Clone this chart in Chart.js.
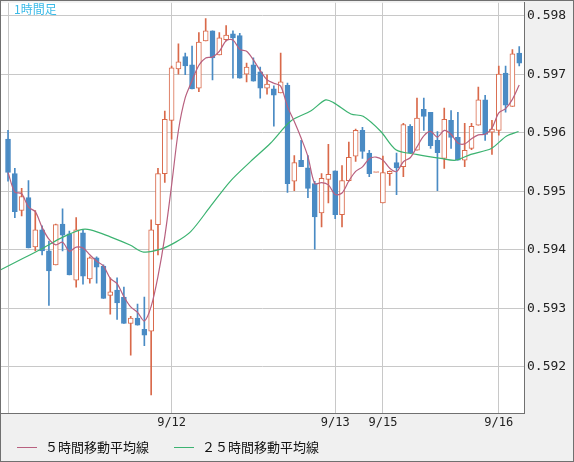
<!DOCTYPE html>
<html>
<head>
<meta charset="utf-8">
<script src="https://cdn.jsdelivr.net/npm/chart.js@4"></script>
<style>
  html, body { margin: 0; padding: 0; background: #f0f0f0; }
  #wrap { width: 572px; height: 460px; border: 1px solid #707070; overflow: hidden; }
  #myChart { display: block; margin-top: -9px; }
</style>
</head>
<body>
<div id="wrap"><canvas id="myChart" width="572" height="469"></canvas></div>
<script>
// hourly candles (open, high, low, close)
var opens = [0.59589,0.59530,0.59467,0.59489,0.59405,0.59434,0.59398,0.59374,0.59444,0.59427,0.59348,0.59429,0.59350,0.59386,0.59372,0.59322,0.59331,0.59319,0.59274,0.59283,0.59264,0.59261,0.59443,0.59530,0.59621,0.59709,0.59730,0.59716,0.59676,0.59757,0.59774,0.59733,0.59759,0.59769,0.59766,0.59700,0.59716,0.59704,0.59676,0.59675,0.59668,0.59681,0.59517,0.59553,0.59540,0.59513,0.59463,0.59520,0.59535,0.59460,0.59518,0.59560,0.59604,0.59565,0.59532,0.59480,0.59530,0.59549,0.59542,0.59611,0.59570,0.59640,0.59635,0.59587,0.59556,0.59621,0.59592,0.59553,0.59573,0.59613,0.59656,0.59601,0.59604,0.59702,0.59645,0.59736];
var highs = [0.59604,0.59539,0.59505,0.59518,0.59467,0.59441,0.59415,0.59444,0.59470,0.59432,0.59455,0.59434,0.59388,0.59388,0.59374,0.59352,0.59352,0.59336,0.59286,0.59307,0.59319,0.59451,0.59539,0.59637,0.59714,0.59752,0.59736,0.59748,0.59771,0.59795,0.59774,0.59771,0.59783,0.59774,0.59770,0.59719,0.59728,0.59712,0.59699,0.59680,0.59736,0.59685,0.59561,0.59587,0.59561,0.59517,0.59530,0.59580,0.59535,0.59544,0.59584,0.59606,0.59609,0.59570,0.59532,0.59560,0.59535,0.59565,0.59616,0.59614,0.59659,0.59659,0.59635,0.59602,0.59642,0.59638,0.59635,0.59616,0.59616,0.59678,0.59664,0.59621,0.59714,0.59714,0.59742,0.59747];
var lows = [0.59517,0.59455,0.59458,0.59403,0.59398,0.59391,0.59305,0.59374,0.59398,0.59357,0.59336,0.59341,0.59343,0.59343,0.59317,0.59290,0.59281,0.59274,0.59220,0.59271,0.59236,0.59152,0.59391,0.59515,0.59589,0.59700,0.59699,0.59675,0.59670,0.59757,0.59690,0.59733,0.59757,0.59693,0.59693,0.59687,0.59688,0.59659,0.59666,0.59611,0.59668,0.59498,0.59501,0.59542,0.59489,0.59401,0.59439,0.59480,0.59453,0.59439,0.59517,0.59551,0.59556,0.59525,0.59532,0.59480,0.59510,0.59494,0.59525,0.59566,0.59570,0.59604,0.59573,0.59501,0.59539,0.59573,0.59553,0.59542,0.59571,0.59613,0.59587,0.59563,0.59596,0.59635,0.59645,0.59714];
var closes = [0.59532,0.59465,0.59491,0.59403,0.59434,0.59398,0.59364,0.59443,0.59425,0.59357,0.59434,0.59355,0.59386,0.59370,0.59317,0.59328,0.59309,0.59274,0.59283,0.59271,0.59254,0.59434,0.59530,0.59623,0.59711,0.59721,0.59714,0.59675,0.59755,0.59774,0.59728,0.59762,0.59767,0.59762,0.59693,0.59712,0.59688,0.59676,0.59683,0.59664,0.59687,0.59513,0.59549,0.59542,0.59505,0.59456,0.59522,0.59529,0.59460,0.59518,0.59558,0.59604,0.59568,0.59530,0.59532,0.59532,0.59534,0.59540,0.59614,0.59566,0.59625,0.59628,0.59578,0.59566,0.59623,0.59592,0.59553,0.59570,0.59611,0.59656,0.59597,0.59606,0.59700,0.59647,0.59735,0.59719];

// 25 hour moving average at a few points [index, value]
var ma25Points = [[-1.2,0.59365],[1.8,0.59383],[4.7,0.59400],[7.6,0.59419],[10.6,0.59434],[12.1,0.59434],[15,0.59422],[17.9,0.59408],[19.9,0.59396],[22.4,0.59401],[24.6,0.59413],[26.8,0.59431],[29.7,0.59474],[32.6,0.59517],[35.6,0.59551],[38.5,0.59582],[41.5,0.59620],[44.4,0.59637],[46.6,0.59656],[47.8,0.59651],[50.3,0.59632],[52.1,0.59628],[54.7,0.59602],[56.9,0.59571],[59.9,0.59563],[63.5,0.59556],[65.7,0.59553],[67.9,0.59563],[70.9,0.59573],[73.1,0.59594],[74.9,0.59602]];

// date gridlines (candle index) and their labels
var dateIndex = [0, 24, 48, 55, 72];
var dateLabels = ["", "9/12", "9/13", "9/15", "9/16"];
var priceTicks = [0.592, 0.593, 0.594, 0.595, 0.596, 0.597, 0.598];

var upColor = "#d9694a";
var downColor = "#4a8bc4";

//build the datasets from the arrays
var wicks = [], bodies = [], bodyColors = [], bodyFills = [], ma5 = [];
for (var i = 0; i < opens.length; i++) {
	var up = closes[i] >= opens[i];
	wicks.push({x: i, y: [lows[i], highs[i]]});
	bodies.push({x: i, y: [Math.min(opens[i], closes[i]), Math.max(opens[i], closes[i])]});
	bodyColors.push(up ? upColor : downColor);
	bodyFills.push(up ? "#ffffff" : downColor);

	//5 hour moving average from the closes
	var n = Math.min(5, i + 1), s = 0;
	for (var k = 0; k < n; k++) s += closes[i - k];
	ma5.push({x: i, y: s / n});
}
var ma25 = ma25Points.map(function(p) { return {x: p[0], y: p[1]}; });

var decorations = {
	id: "decorations",
	afterDraw: function(chart) {
		var ctx = chart.ctx;
		ctx.save();
		ctx.fillStyle = "#3bbbe8";
		ctx.font = "12px 'Noto Sans CJK JP'";
		ctx.textBaseline = "top";
		ctx.fillText("1時間足", 13, 11);

		//legend
		var items = [["５時間移動平均線", "#b8607f", 16], ["２５時間移動平均線", "#3cb371", 173]];
		ctx.font = "13px 'Noto Sans CJK JP'";
		ctx.textBaseline = "middle";
		items.forEach(function(it) {
			ctx.strokeStyle = it[1];
			ctx.lineWidth = 1;
			ctx.beginPath();
			ctx.moveTo(it[2], 455.5);
			ctx.lineTo(it[2] + 20, 455.5);
			ctx.stroke();
			ctx.fillStyle = "#111";
			ctx.fillText(it[0], it[2] + 28, 455);
		});
		ctx.restore();
	}
};

var ctx = document.getElementById("myChart");
var myChart = new Chart(ctx, {
	data: {
		datasets: [
			{type: "line", data: ma25, borderColor: "#3cb371", borderWidth: 1.2, pointRadius: 0, tension: 0.3, order: 1},
			{type: "line", data: ma5, borderColor: "#b8607f", borderWidth: 1.2, pointRadius: 0, tension: 0.3, order: 0},
			{type: "bar", data: wicks, backgroundColor: bodyColors, barThickness: 1, grouped: false, order: 3},
			{type: "bar", data: bodies, backgroundColor: bodyFills, borderColor: bodyColors, borderWidth: 1, borderSkipped: false, barThickness: 5, minBarLength: 1, grouped: false, order: 2}
		]
	},
	options: {
		responsive: false,
		animation: false,
		events: [],
		layout: {padding: {top: 0, left: 0, right: 0, bottom: 26}},
		plugins: {legend: {display: false}, tooltip: {enabled: false}},
		scales: {
			x: {
				type: "linear",
				offset: false,
				min: -1.03,
				max: 75.7,
				afterBuildTicks: function(axis) { axis.ticks = dateIndex.map(function(v) { return {value: v}; }); },
				ticks: {
					autoSkip: false, maxRotation: 0, color: "#222",
					font: {family: "DejaVu Sans Mono", size: 12},
					callback: function(v) { var j = dateIndex.indexOf(v); return j >= 0 ? dateLabels[j] : ""; }
				},
				grid: {color: "#c8c8c8", drawTicks: false, offset: false},
				border: {color: "#707070"},
				afterFit: function(axis) { axis.height = 22; }
			},
			y: {
				position: "right",
				min: 0.59121,
				max: 0.59822,
				afterBuildTicks: function(axis) { axis.ticks = priceTicks.map(function(v) { return {value: v}; }); },
				ticks: {
					color: "#222", padding: 3,
					font: {family: "DejaVu Sans Mono", size: 13},
					callback: function(v) { return v.toFixed(3); }
				},
				grid: {color: "#c8c8c8", drawTicks: false},
				border: {color: "#707070"},
				afterFit: function(axis) { axis.width = 49; }
			}
		}
	},
	plugins: [{
		id: "plotBackground",
		beforeDraw: function(chart) {
			var a = chart.chartArea, c = chart.ctx;
			c.save();
			c.fillStyle = "#ffffff";
			c.fillRect(a.left, a.top, a.right - a.left, a.bottom - a.top);
			c.restore();
		}
	}, decorations]
});
</script>
</body>
</html>
